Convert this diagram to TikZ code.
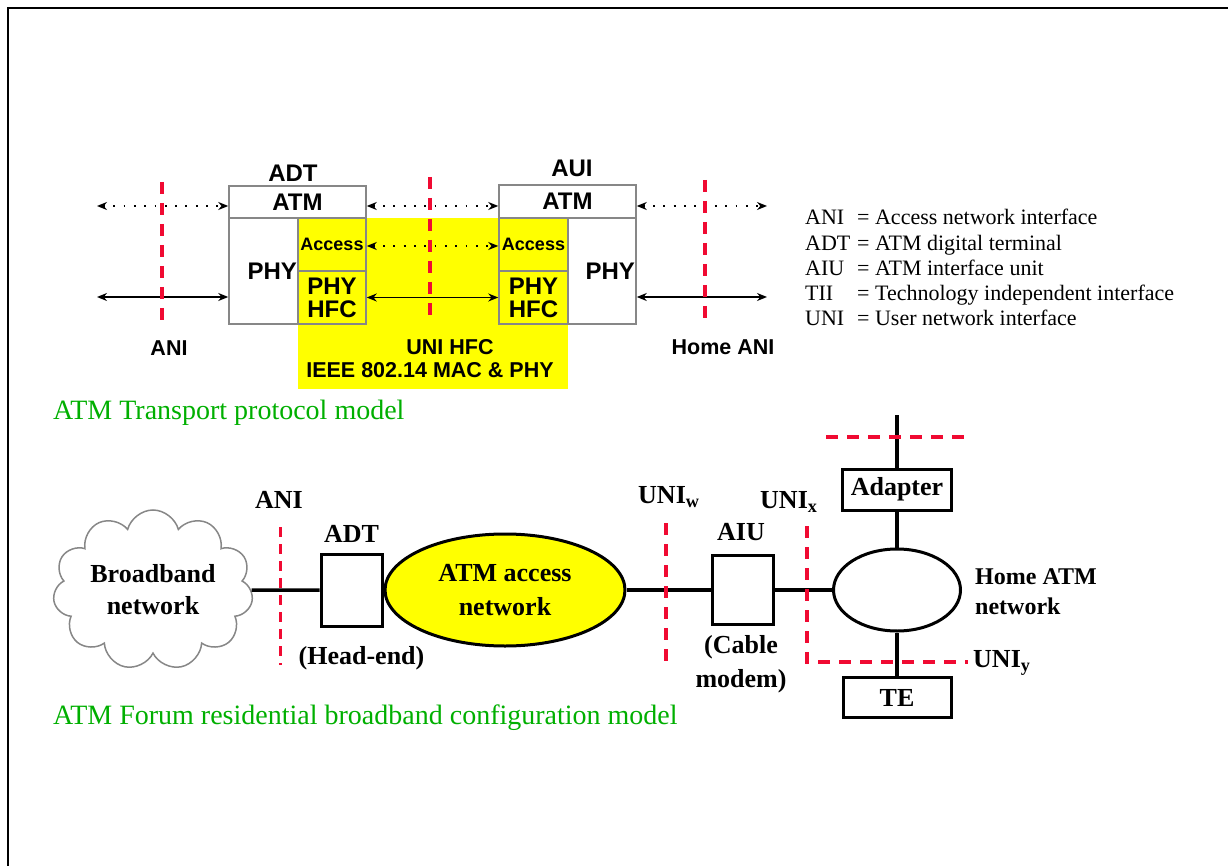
\documentclass[tikz,border=0pt]{standalone}
\usepackage{fontspec}
\setmainfont{Liberation Serif}
\setsansfont{Liberation Sans}
\usepackage{tikz}
\usetikzlibrary{shapes.geometric,shapes.symbols,arrows.meta,positioning,calc}
\usepackage{xcolor}
\definecolor{hfcyellow}{RGB}{255,255,0}
\definecolor{ifred}{RGB}{240,10,50}
\definecolor{titlegreen}{RGB}{0,175,0}
\definecolor{boxgray}{RGB}{135,135,135}

\begin{document}
\begin{tikzpicture}[x=1pt, y=-1pt]
    \tikzstyle{graybox} = [rectangle, draw=boxgray, line width=1.5pt, inner sep=0pt, align=center, font=\sffamily\bfseries\fontsize{24pt}{23pt}\selectfont]
    \tikzstyle{toplbl} = [inner sep=0pt, font=\sffamily\bfseries\fontsize{21.5pt}{24pt}\selectfont]
    \tikzstyle{ifline} = [draw=ifred, line width=3.5pt, dash pattern=on 12pt off 9pt]
    \tikzstyle{dotarrow} = [{Stealth[length=10pt,width=8pt]}-{Stealth[length=10pt,width=8pt]}, line width=1.8pt, dash pattern=on 1.8pt off 8.5pt]
    \tikzstyle{solidarrow} = [{Stealth[length=10pt,width=8pt]}-{Stealth[length=10pt,width=8pt]}, line width=1.8pt]
    \tikzstyle{legend} = [anchor=base west, inner sep=0pt, font=\fontsize{22pt}{25pt}\selectfont]
    \tikzstyle{title} = [anchor=west, inner sep=0pt, text=titlegreen, font=\fontsize{28pt}{32pt}\selectfont]
    \tikzstyle{blkbox} = [rectangle, draw, line width=3pt, inner sep=0pt, align=center, font=\bfseries\fontsize{26pt}{34pt}\selectfont]
    \tikzstyle{lbl} = [inner sep=0pt, align=center, font=\bfseries\fontsize{26pt}{34pt}\selectfont]
    \tikzstyle{link} = [line width=3.5pt]

    \useasboundingbox (0,0) rectangle (1228,866);
    \draw[line width=2.5pt] (8,866) -- (8,8) -- (1228,8);

    % ATM transport protocol model
    \node[fill=hfcyellow, inner sep=0pt, minimum width=270pt, minimum height=171pt] (hfcarea) at (433,303.5) {};

    \node[graybox, minimum width=137pt, minimum height=32pt] (adtatm) at (297.5,202) {ATM};
    \node[graybox, minimum height=106pt, text width=67pt, inner xsep=1pt, align=right] (adtphy) at (263.5,271) {PHY};
    \node[graybox, minimum width=68pt, minimum height=53pt, font=\sffamily\bfseries\fontsize{18pt}{20pt}\selectfont] (adtacc) at (332,244.5) {Access};
    \node[graybox, minimum width=68pt, minimum height=53pt] (adthfc) at (332,297.5) {PHY\\HFC};

    \node[graybox, minimum width=137pt, minimum height=33pt] (auiatm) at (567.5,201.5) {ATM};
    \node[graybox, minimum width=69pt, minimum height=53pt, font=\sffamily\bfseries\fontsize{18pt}{20pt}\selectfont] (auiacc) at (533.5,244.5) {Access};
    \node[graybox, minimum width=69pt, minimum height=53pt] (auihfc) at (533.5,297.5) {PHY\\HFC};
    \node[graybox, minimum height=106pt, text width=66pt, inner xsep=1pt, align=right] (auiphy) at (602,271) {PHY};

    \node[toplbl, font=\sffamily\bfseries\fontsize{24pt}{26pt}\selectfont] (adtlbl) at (293,173) {ADT};
    \node[toplbl, font=\sffamily\bfseries\fontsize{24pt}{26pt}\selectfont] (auilbl) at (572,168) {AUI};

    \coordinate (atmL) at (97,206);
    \coordinate (atmR) at (767,206);
    \coordinate (phyL) at (97,297);
    \coordinate (phyR) at (767,297);
    \draw[dotarrow] (atmL) -- (atmL -| adtatm.west);
    \draw[dotarrow] (adtatm.east |- atmL) -- (auiatm.west |- atmL);
    \draw[dotarrow] (auiatm.east |- atmR) -- (atmR);
    \draw[dotarrow] ([yshift=-1.5pt]adtacc.east) -- ([yshift=-1.5pt]auiacc.west);
    \draw[solidarrow] (phyL) -- (phyL -| adtphy.west);
    \draw[solidarrow] (adthfc) -- (auihfc);
    \draw[solidarrow] (phyR -| auiphy.east) -- (phyR);

    \coordinate (aniT) at (162,182);
    \coordinate (aniB) at (162,322);
    \coordinate (uniT) at (430,177);
    \coordinate (uniB) at (430,317);
    \coordinate (homeT) at (705,180);
    \coordinate (homeB) at (705,318);
    \draw[ifline] (aniT) -- (aniB);
    \draw[ifline] (uniT) -- (uniB);
    \draw[ifline] (homeT) -- (homeB);

    \node[toplbl] (anilbl) at (169,348) {ANI};
    \node[toplbl] (unihfc) at (450,347) {UNI HFC};
    \node[toplbl] (ieee) at (430,370) {IEEE 802.14 MAC \& PHY};
    \node[toplbl] (homeani) at (723,347) {Home ANI};

    % Legend
    \node[legend] (lgani) at (805,225) {\makebox[52pt][l]{ANI}= Access network interface};
    \node[legend] (lgadt) at (805,250.2) {\makebox[52pt][l]{ADT}= ATM digital terminal};
    \node[legend] (lgaiu) at (805,275.4) {\makebox[52pt][l]{AIU}= ATM interface unit};
    \node[legend] (lgtii) at (805,300.6) {\makebox[52pt][l]{TII}= Technology independent interface};
    \node[legend] (lguni) at (805,325.8) {\makebox[52pt][l]{UNI}= User network interface};

    \node[title] (trtitle) at (53,413) {ATM Transport protocol model};

    % ATM Forum residential broadband configuration model
    \node[cloud, cloud puffs=11, cloud ignores aspect, draw=boxgray, line width=1.5pt, minimum width=200pt, minimum height=160pt, lbl, font=\bfseries\fontsize{26pt}{32pt}\selectfont] (bbnet) at (153,590) {Broadband\\network};
    \node[blkbox, minimum width=61pt, minimum height=72pt] (adt) at (351.5,590) {};
    \node[ellipse, draw, line width=3pt, fill=hfcyellow, minimum width=240pt, minimum height=112pt, lbl] (atmnet) at (505,590) {ATM access\\network};
    \node[blkbox, minimum width=61pt, minimum height=69pt] (aiu) at (742.5,590) {};
    \node[ellipse, draw, line width=3pt, minimum width=127pt, minimum height=82pt] (homenet) at (897,590) {};
    \node[blkbox, minimum width=109pt, minimum height=41pt] (adapter) at (897,489.5) {Adapter};
    \node[blkbox, minimum width=108pt, minimum height=40pt] (te) at (897,697.5) {TE};
    \coordinate (uplink) at (897,415);

    \draw[link] (bbnet) -- (adt);
    \draw[link] (adt) -- (atmnet);
    \draw[link] (atmnet) -- (aiu);
    \draw[link] (aiu) -- (homenet);
    \draw[link] (homenet) -- (adapter);
    \draw[link] (adapter) -- (uplink);
    \draw[link] (homenet) -- (te);

    \coordinate (aniT2) at (280,527);
    \coordinate (aniB2) at (280,665);
    \coordinate (uniwT) at (666,523);
    \coordinate (uniwB) at (666,662);
    \coordinate (unixT) at (807,526);
    \coordinate (unixC) at (807,662);
    \coordinate (unixR) at (968,662);
    \coordinate (adpL) at (826,437);
    \coordinate (adpR) at (968,437);
    \draw[ifline, line width=3pt, dash pattern=on 10pt off 7pt] (aniT2) -- (aniB2);
    \draw[ifline] (uniwT) -- (uniwB);
    \draw[ifline] (unixT) -- (unixC) -- (unixR);
    \draw[ifline] (adpL) -- (adpR);

    \node[lbl] (anilbl2) at (279,500) {ANI};
    \node[lbl] (adtlbl2) at (351.5,534) {ADT};
    \node[lbl] (headend) at (361.5,658) {(Head-end)};
    \node[lbl] (aiulbl) at (741,532) {AIU};
    \node[lbl] (cablemodem) at (741,664) {(Cable\\modem)};
    \node[lbl, anchor=west] (uniw) at (638,497) {UNI\textsubscript{w}};
    \node[lbl, anchor=west] (unix) at (760,502) {UNI\textsubscript{x}};
    \node[lbl, anchor=west] (uniy) at (973,663) {UNI\textsubscript{y}};
    \node[lbl, anchor=west, align=left, font=\bfseries\fontsize{24pt}{30pt}\selectfont] (homelbl) at (975,592) {Home ATM\\network};

    \node[title] (cfgtitle) at (53,718) {ATM Forum residential broadband configuration model};
\end{tikzpicture}
\end{document}
